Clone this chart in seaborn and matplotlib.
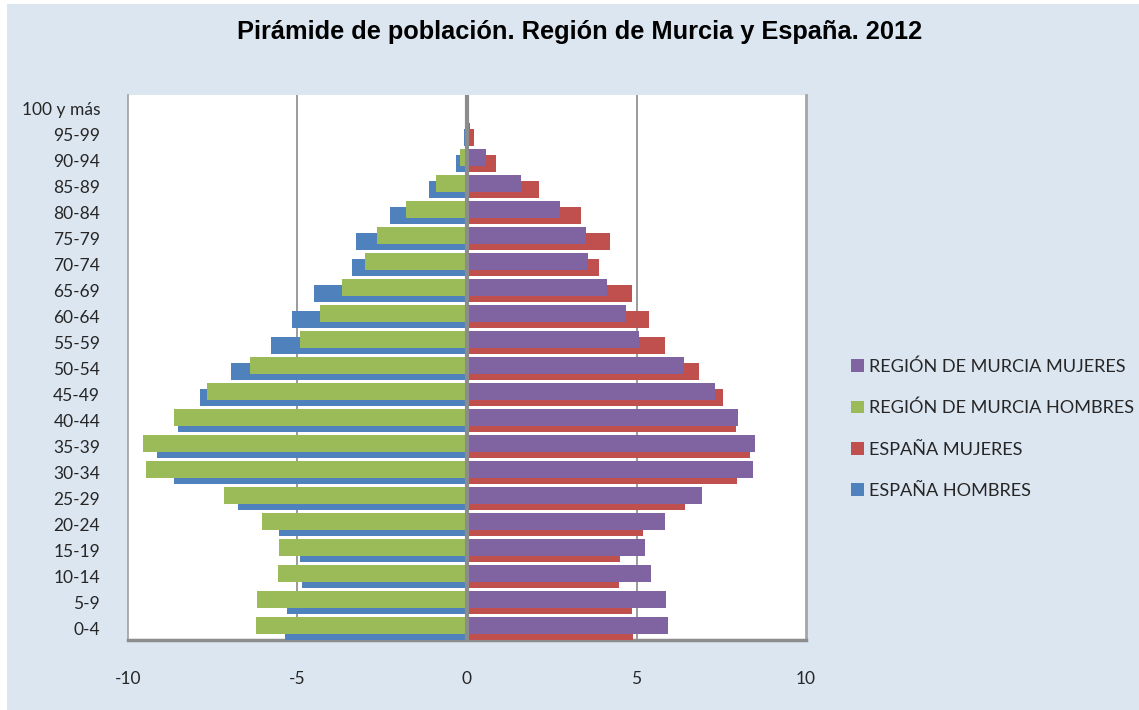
import numpy as np
import pandas as pd
import seaborn as sns
import matplotlib.pyplot as plt
from matplotlib.patches import Rectangle, Patch

edades = ["0-4", "5-9", "10-14", "15-19", "20-24", "25-29", "30-34", "35-39",
          "40-44", "45-49", "50-54", "55-59", "60-64", "65-69", "70-74", "75-79",
          "80-84", "85-89", "90-94", "95-99", "100 y más"]

espana_hombres = [-5.37, -5.30, -4.88, -4.93, -5.54, -6.75, -8.64, -9.15, -8.52, -7.88,
                  -6.97, -5.79, -5.17, -4.51, -3.40, -3.28, -2.27, -1.12, -0.33, -0.08, -0.01]
murcia_hombres = [-6.22, -6.19, -5.58, -5.56, -6.04, -7.16, -9.48, -9.55, -8.63, -7.66,
                  -6.40, -4.93, -4.34, -3.70, -3.01, -2.66, -1.81, -0.90, -0.20, -0.03, -0.01]
espana_mujeres = [4.91, 4.86, 4.48, 4.51, 5.20, 6.43, 7.97, 8.35, 7.94, 7.55,
                  6.84, 5.83, 5.37, 4.87, 3.90, 4.22, 3.37, 2.12, 0.85, 0.20, 0.03]
murcia_mujeres = [5.94, 5.86, 5.43, 5.25, 5.84, 6.92, 8.43, 8.51, 8.00, 7.33,
                  6.40, 5.07, 4.70, 4.12, 3.57, 3.50, 2.74, 1.60, 0.55, 0.10, 0.01]

x_ticks = [-10, -5, 0, 5, 10]

series_labels = ["REGIÓN DE MURCIA MUJERES", "REGIÓN DE MURCIA HOMBRES",
                 "ESPAÑA MUJERES", "ESPAÑA HOMBRES"]
colores = {"REGIÓN DE MURCIA MUJERES": "#8064a2",
           "REGIÓN DE MURCIA HOMBRES": "#9bbb59",
           "ESPAÑA MUJERES": "#c0504d",
           "ESPAÑA HOMBRES": "#4f81bd"}

sns.set_theme(style="white")
plt.rcParams['font.family'] = ['Lato', 'DejaVu Sans']

fig = plt.figure(figsize=(11.39, 7.1), dpi=100)
fig.patch.set_facecolor("white")
fig.add_artist(Rectangle((7 / 1139, 0), 1 - 7 / 1139, 1 - 4 / 710,
                         transform=fig.transFigure, facecolor="#dce6f1",
                         edgecolor="none", zorder=0))

ax = fig.add_axes([128 / 1139, 1 - 640 / 710, (806 - 128) / 1139, (640 - 95) / 710])
ax.set_facecolor("white")

pos = np.arange(len(edades))
off = 0.105
bar_w = 0.66

# España behind (lower), Murcia in front (upper)
for vals, name, d in [(espana_hombres, "ESPAÑA HOMBRES", -off),
                      (espana_mujeres, "ESPAÑA MUJERES", -off),
                      (murcia_hombres, "REGIÓN DE MURCIA HOMBRES", off),
                      (murcia_mujeres, "REGIÓN DE MURCIA MUJERES", off)]:
    df = pd.DataFrame({"valor": vals, "pos": pos + d})
    sns.barplot(data=df, x="valor", y="pos", orient="h", native_scale=True,
                width=bar_w, color=colores[name], saturation=1, errorbar=None,
                linewidth=0, ax=ax, zorder=3)

ax.set_xlim(-10, 10)
ax.set_ylim(-0.45, 20.52)
ax.set_xlabel("")
ax.set_ylabel("")

ax.set_xticks(x_ticks)
ax.set_xticklabels([str(t) for t in x_ticks], fontsize=12.5, color="#262626")
ax.set_yticks(pos)
ax.set_yticklabels(edades, fontsize=12.5, color="#262626")
ax.tick_params(axis="y", length=0, pad=20)
ax.tick_params(axis="x", length=6, width=1.5, color="#8c8c8c", direction="out", pad=16)

for g in [-5, 5]:
    ax.axvline(g, color="#8a8a8a", lw=1.2, zorder=1)
ax.axvline(0, color="#8c8c8c", lw=3, zorder=4)

ax.spines["top"].set_visible(False)
ax.spines["left"].set_color("#a0a0a0")
ax.spines["left"].set_linewidth(1.2)
ax.spines["right"].set_color("#a6a6a6")
ax.spines["right"].set_linewidth(2)
ax.spines["bottom"].set_color("#8c8c8c")
ax.spines["bottom"].set_linewidth(2.5)

fig.text(0.509, 1 - 38.5 / 710, "Pirámide de población. Región de Murcia y España. 2012",
         ha="center", va="baseline", fontsize=18.3, fontweight="bold",
         family=["Liberation Sans", "DejaVu Sans"], color="black")

handles = [Patch(facecolor=colores[l], edgecolor="none") for l in series_labels]
fig.legend(handles, series_labels, loc="upper left",
           bbox_to_anchor=(842 / 1139, 1 - 349 / 710), frameon=False,
           fontsize=13.1, handlelength=0.7, handleheight=0.7,
           handletextpad=0.3, labelspacing=1.39, borderpad=0,
           labelcolor="#262626")

fig.savefig("out.png", dpi=100, facecolor=fig.get_facecolor())
